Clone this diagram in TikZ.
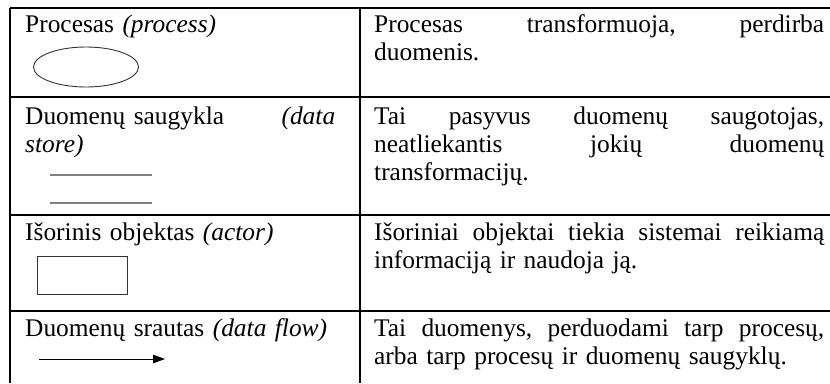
\documentclass[tikz,border=0pt]{standalone}
\usepackage{fontspec}
\setmainfont{Liberation Serif}
\usetikzlibrary{arrows.meta}

% widths of the justified text columns
\newlength{\leftw}\setlength{\leftw}{310pt}
\newlength{\rightw}\setlength{\rightw}{450pt}

\begin{document}
\begin{tikzpicture}[x=1pt,y=-1pt,
  rule/.style={line width=1.4pt, black},
  cell/.style={anchor=base west, inner sep=0pt, align=left,
               font=\fontsize{25.4}{28}\selectfont},
  lcell/.style={cell, text width=\leftw},
  rcell/.style={cell, text width=\rightw},
  symbol/.style={line width=0.9pt, draw=black!80},
  storeline/.style={line width=1.2pt, draw=black!50},
  flow/.style={line width=0.9pt, black, -{Triangle[length=12pt,width=8.5pt]}}
]
\useasboundingbox (0,0) rectangle (830,383);

% table rules
\draw[rule] (10,8) -- (830,8);
\draw[rule] (10,97) -- (830,97);
\draw[rule] (10,215) -- (830,215);
\draw[rule] (10,311) -- (830,311);
\draw[rule] (10,8) -- (10,383);
\draw[rule] (360,8) -- (360,383);

% left column: names of the elements
\node[lcell] (l1) at (25,32) {Procesas \textit{(process)}};
\node[lcell] (l2) at (25,124) {\makebox[\leftw][l]{Duomenų saugykla\hfill\textit{(data}}\\\textit{store)}};
\node[lcell] (l3) at (25,240) {Išorinis objektas \textit{(actor)}};
\node[lcell] (l4) at (25,336) {Duomenų srautas \textit{(data flow)}};

% right column: descriptions (justified lines)
\node[rcell] (r1) at (374,32) {\makebox[\rightw][l]{Procesas\hfill transformuoja,\hfill perdirba}\\duomenis.};
\node[rcell] (r2) at (374,124) {\makebox[\rightw][l]{Tai\hfill pasyvus\hfill duomenų\hfill saugotojas,}\\\makebox[\rightw][l]{neatliekantis\hfill jokių\hfill duomenų}\\transformacijų.};
\node[rcell] (r3) at (374,240) {\makebox[\rightw][l]{Išoriniai\hfill objektai\hfill tiekia\hfill sistemai\hfill reikiamą}\\informaciją ir naudoja ją.};
\node[rcell] (r4) at (374,336) {\makebox[\rightw][l]{Tai\hfill duomenys,\hfill perduodami\hfill tarp\hfill procesų,}\\arba tarp procesų ir duomenų saugyklų.};

% notation symbols
\draw[symbol] (86,67) ellipse [x radius=52.5, y radius=20];
\draw[storeline] (50,175) -- (152,175);
\draw[storeline] (50,203) -- (152,203);
\draw[symbol] (37,256) rectangle (127,294);
\coordinate (fs) at (39,359);
\coordinate (fe) at (165,359);
\draw[flow] (fs) -- (fe);
\end{tikzpicture}
\end{document}
